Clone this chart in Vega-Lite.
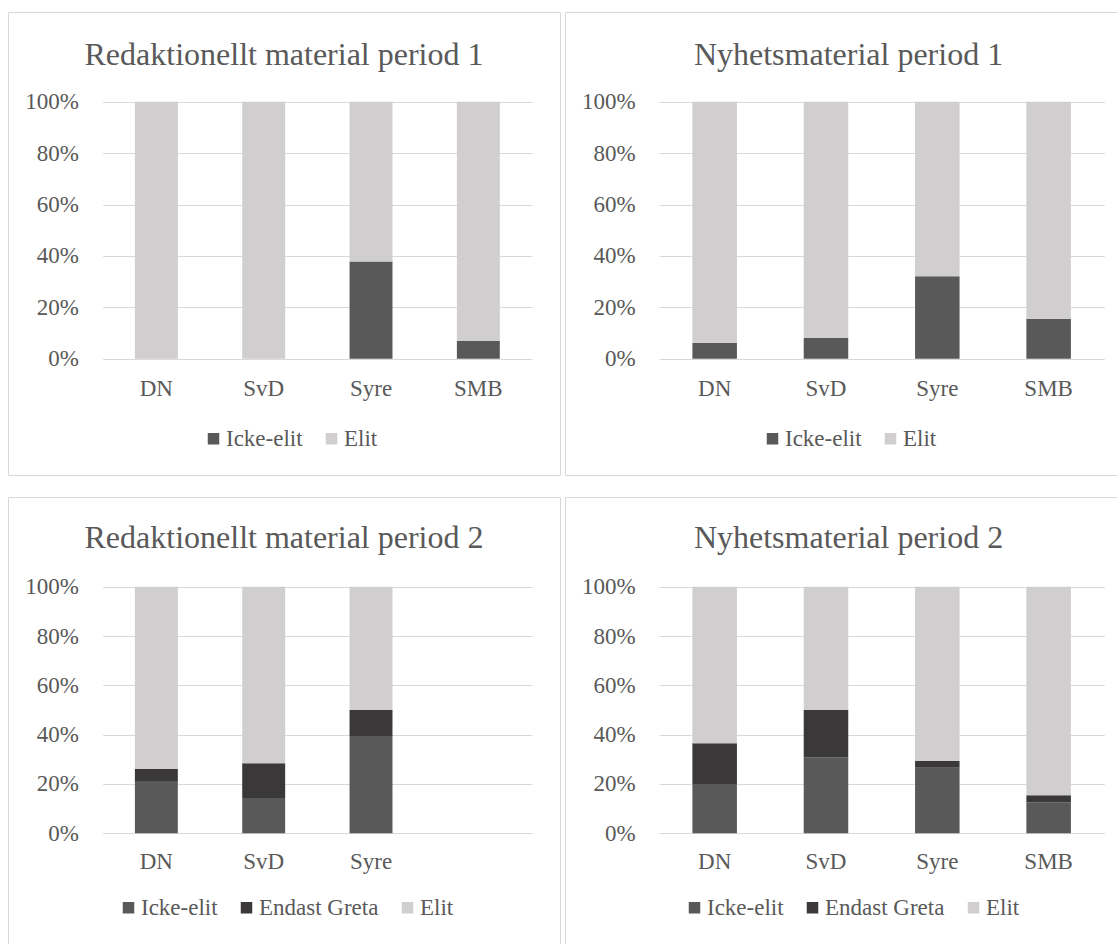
{
  "$schema": "https://vega.github.io/schema/vega-lite/v6.json",
  "padding": {"left": 7, "top": 11, "right": 0, "bottom": 0},
  "background": "white",
  "data": {
    "values": [
      {"panel": "R1", "outlet": "DN", "group": "Icke-elit", "rank": 1, "value": 0},
      {"panel": "R1", "outlet": "DN", "group": "Elit", "rank": 3, "value": 100},
      {"panel": "R1", "outlet": "SvD", "group": "Icke-elit", "rank": 1, "value": 0},
      {"panel": "R1", "outlet": "SvD", "group": "Elit", "rank": 3, "value": 100},
      {"panel": "R1", "outlet": "Syre", "group": "Icke-elit", "rank": 1, "value": 37.8},
      {"panel": "R1", "outlet": "Syre", "group": "Elit", "rank": 3, "value": 62.2},
      {"panel": "R1", "outlet": "SMB", "group": "Icke-elit", "rank": 1, "value": 6.9},
      {"panel": "R1", "outlet": "SMB", "group": "Elit", "rank": 3, "value": 93.1},

      {"panel": "N1", "outlet": "DN", "group": "Icke-elit", "rank": 1, "value": 6.2},
      {"panel": "N1", "outlet": "DN", "group": "Elit", "rank": 3, "value": 93.8},
      {"panel": "N1", "outlet": "SvD", "group": "Icke-elit", "rank": 1, "value": 8.1},
      {"panel": "N1", "outlet": "SvD", "group": "Elit", "rank": 3, "value": 91.9},
      {"panel": "N1", "outlet": "Syre", "group": "Icke-elit", "rank": 1, "value": 32.1},
      {"panel": "N1", "outlet": "Syre", "group": "Elit", "rank": 3, "value": 67.9},
      {"panel": "N1", "outlet": "SMB", "group": "Icke-elit", "rank": 1, "value": 15.5},
      {"panel": "N1", "outlet": "SMB", "group": "Elit", "rank": 3, "value": 84.5},

      {"panel": "R2", "outlet": "DN", "group": "Icke-elit", "rank": 1, "value": 21.2},
      {"panel": "R2", "outlet": "DN", "group": "Endast Greta", "rank": 2, "value": 4.9},
      {"panel": "R2", "outlet": "DN", "group": "Elit", "rank": 3, "value": 73.9},
      {"panel": "R2", "outlet": "SvD", "group": "Icke-elit", "rank": 1, "value": 14.3},
      {"panel": "R2", "outlet": "SvD", "group": "Endast Greta", "rank": 2, "value": 14.1},
      {"panel": "R2", "outlet": "SvD", "group": "Elit", "rank": 3, "value": 71.6},
      {"panel": "R2", "outlet": "Syre", "group": "Icke-elit", "rank": 1, "value": 39.5},
      {"panel": "R2", "outlet": "Syre", "group": "Endast Greta", "rank": 2, "value": 10.5},
      {"panel": "R2", "outlet": "Syre", "group": "Elit", "rank": 3, "value": 50.0},

      {"panel": "N2", "outlet": "DN", "group": "Icke-elit", "rank": 1, "value": 20.0},
      {"panel": "N2", "outlet": "DN", "group": "Endast Greta", "rank": 2, "value": 16.5},
      {"panel": "N2", "outlet": "DN", "group": "Elit", "rank": 3, "value": 63.5},
      {"panel": "N2", "outlet": "SvD", "group": "Icke-elit", "rank": 1, "value": 30.7},
      {"panel": "N2", "outlet": "SvD", "group": "Endast Greta", "rank": 2, "value": 19.3},
      {"panel": "N2", "outlet": "SvD", "group": "Elit", "rank": 3, "value": 50.0},
      {"panel": "N2", "outlet": "Syre", "group": "Icke-elit", "rank": 1, "value": 26.6},
      {"panel": "N2", "outlet": "Syre", "group": "Endast Greta", "rank": 2, "value": 2.7},
      {"panel": "N2", "outlet": "Syre", "group": "Elit", "rank": 3, "value": 70.7},
      {"panel": "N2", "outlet": "SMB", "group": "Icke-elit", "rank": 1, "value": 12.6},
      {"panel": "N2", "outlet": "SMB", "group": "Endast Greta", "rank": 2, "value": 2.8},
      {"panel": "N2", "outlet": "SMB", "group": "Elit", "rank": 3, "value": 84.6}
    ]
  },
  "columns": 2,
  "spacing": {"row": 20, "column": 3},
  "resolve": {"scale": {"color": "independent"}, "legend": {"color": "independent"}},
  "concat": [
    {
      "width": 552, "height": 463,
      "title": {"text": "Redaktionellt material period 1", "offset": -59.5},
      "transform": [{"filter": "datum.panel == 'R1'"}],
      "mark": {"type": "bar"},
      "encoding": {
        "x": {"field": "outlet", "type": "nominal",
              "scale": {"domain": ["DN", "SvD", "Syre", "SMB"], "range": [94.7, 524], "paddingInner": 0.6, "paddingOuter": 0.3},
              "axis": {"title": null, "labelAngle": 0, "offset": -79.7, "labelBaseline": "alphabetic", "labelFont": "Liberation Serif", "domain": false, "ticks": false, "tickSize": 0, "labelPadding": 0, "grid": false}},
        "y": {"field": "value", "type": "quantitative", "stack": "normalize",
              "scale": {"domain": [0, 1], "range": [346.7, 89.7], "nice": false},
              "axis": {"title": null, "format": ".0%", "values": [0, 0.2, 0.4, 0.6, 0.8, 1], "offset": -70.5, "labelFont": "Liberation Serif", "domain": false, "ticks": false, "tickSize": 0, "labelPadding": 0, "grid": true}},
        "color": {"field": "group", "type": "nominal",
                  "scale": {"domain": ["Icke-elit", "Elit"], "range": ["#595959", "#d0cece"]},
                  "legend": {"title": null, "orient": "none", "legendX": 194, "legendY": 415, "direction": "horizontal", "labelFont": "Liberation Serif"}},
        "order": {"field": "rank", "type": "quantitative"}
      }
    },
    {
      "width": 567, "height": 463,
      "title": {"text": "Nyhetsmaterial period 1", "offset": -59.5},
      "transform": [{"filter": "datum.panel == 'N1'"}],
      "mark": {"type": "bar"},
      "encoding": {
        "x": {"field": "outlet", "type": "nominal",
              "scale": {"domain": ["DN", "SvD", "Syre", "SMB"], "range": [94, 539.3], "paddingInner": 0.6, "paddingOuter": 0.3},
              "axis": {"title": null, "labelAngle": 0, "offset": -79.7, "labelBaseline": "alphabetic", "labelFont": "Liberation Serif", "domain": false, "ticks": false, "tickSize": 0, "labelPadding": 0, "grid": false}},
        "y": {"field": "value", "type": "quantitative", "stack": "normalize",
              "scale": {"domain": [0, 1], "range": [346.7, 89.7], "nice": false},
              "axis": {"title": null, "format": ".0%", "values": [0, 0.2, 0.4, 0.6, 0.8, 1], "offset": -70.2, "labelFont": "Liberation Serif", "domain": false, "ticks": false, "tickSize": 0, "labelPadding": 0, "grid": true}},
        "color": {"field": "group", "type": "nominal",
                  "scale": {"domain": ["Icke-elit", "Elit"], "range": ["#595959", "#d0cece"]},
                  "legend": {"title": null, "orient": "none", "legendX": 196, "legendY": 415, "direction": "horizontal", "labelFont": "Liberation Serif"}},
        "order": {"field": "rank", "type": "quantitative"}
      }
    },
    {
      "width": 552, "height": 450,
      "title": {"text": "Redaktionellt material period 2", "offset": -58},
      "transform": [{"filter": "datum.panel == 'R2'"}],
      "mark": {"type": "bar"},
      "encoding": {
        "x": {"field": "outlet", "type": "nominal",
              "scale": {"domain": ["DN", "SvD", "Syre", "SMB"], "range": [94.7, 524], "paddingInner": 0.6, "paddingOuter": 0.3},
              "axis": {"title": null, "labelAngle": 0, "offset": -79, "labelBaseline": "alphabetic", "labelFont": "Liberation Serif", "domain": false, "ticks": false, "tickSize": 0, "labelPadding": 0, "grid": false,
                       "labelExpr": "datum.label == 'SMB' ? '' : datum.label"}},
        "y": {"field": "value", "type": "quantitative", "stack": "normalize",
              "scale": {"domain": [0, 1], "range": [336.3, 89.7], "nice": false},
              "axis": {"title": null, "format": ".0%", "values": [0, 0.2, 0.4, 0.6, 0.8, 1], "offset": -70.5, "labelFont": "Liberation Serif", "domain": false, "ticks": false, "tickSize": 0, "labelPadding": 0, "grid": true}},
        "color": {"field": "group", "type": "nominal",
                  "scale": {"domain": ["Icke-elit", "Endast Greta", "Elit"], "range": ["#595959", "#3a3838", "#d0cece"]},
                  "legend": {"title": null, "orient": "none", "legendX": 109, "legendY": 399, "direction": "horizontal", "labelFont": "Liberation Serif"}},
        "order": {"field": "rank", "type": "quantitative"}
      }
    },
    {
      "width": 567, "height": 450,
      "title": {"text": "Nyhetsmaterial period 2", "offset": -58},
      "transform": [{"filter": "datum.panel == 'N2'"}],
      "mark": {"type": "bar"},
      "encoding": {
        "x": {"field": "outlet", "type": "nominal",
              "scale": {"domain": ["DN", "SvD", "Syre", "SMB"], "range": [94, 539.3], "paddingInner": 0.6, "paddingOuter": 0.3},
              "axis": {"title": null, "labelAngle": 0, "offset": -79, "labelBaseline": "alphabetic", "labelFont": "Liberation Serif", "domain": false, "ticks": false, "tickSize": 0, "labelPadding": 0, "grid": false}},
        "y": {"field": "value", "type": "quantitative", "stack": "normalize",
              "scale": {"domain": [0, 1], "range": [336.3, 89.7], "nice": false},
              "axis": {"title": null, "format": ".0%", "values": [0, 0.2, 0.4, 0.6, 0.8, 1], "offset": -70.2, "labelFont": "Liberation Serif", "domain": false, "ticks": false, "tickSize": 0, "labelPadding": 0, "grid": true}},
        "color": {"field": "group", "type": "nominal",
                  "scale": {"domain": ["Icke-elit", "Endast Greta", "Elit"], "range": ["#595959", "#3a3838", "#d0cece"]},
                  "legend": {"title": null, "orient": "none", "legendX": 118, "legendY": 399, "direction": "horizontal", "labelFont": "Liberation Serif"}},
        "order": {"field": "rank", "type": "quantitative"}
      }
    }
  ],
  "config": {
    "font": "Liberation Serif",
    "style": {"guide-label": {"font": "Liberation Serif"}, "group-title": {"font": "Liberation Serif"}},
    "view": {"stroke": "#d9d9d9", "strokeWidth": 1},
    "axis": {"labelFont": "Liberation Serif", "labelFontSize": 23, "labelColor": "#595959", "gridColor": "#d9d9d9", "gridWidth": 1},
    "legend": {"labelFont": "Liberation Serif", "labelFontSize": 23, "labelColor": "#595959", "symbolType": "square", "symbolSize": 132, "symbolStrokeWidth": 0, "labelOffset": 1, "columnPadding": 17, "padding": 0, "labelLimit": 400},
    "title": {"font": "Liberation Serif", "fontSize": 32, "fontWeight": "normal", "color": "#595959", "anchor": "middle", "baseline": "alphabetic"}
  }
}
